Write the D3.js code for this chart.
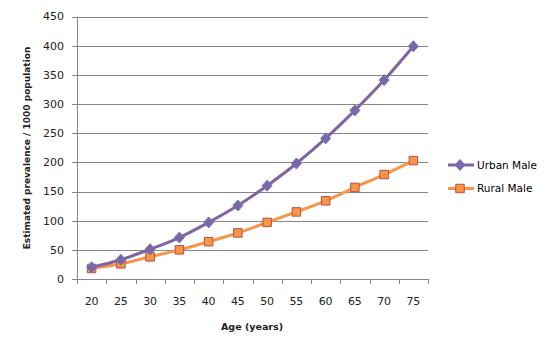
<!DOCTYPE html>
<html>
<head>
<meta charset="utf-8">
<script src="https://cdn.jsdelivr.net/npm/d3@7"></script>
<style>
  body { margin: 0; background: #fff; }
  text { font-family: "DejaVu Sans", sans-serif; fill: #222; }
</style>
</head>
<body>
<svg id="chart" width="556" height="353"></svg>
<script>
// Age groups and prevalence per 1000
const ages = ['20', '25', '30', '35', '40', '45', '50', '55', '60', '65', '70', '75'];
const urbanMale = [20, 33, 51, 71, 97, 126, 160, 198, 241, 289, 341, 399];
const ruralMale = [18, 26, 38, 50, 64, 79, 97, 115, 134, 157, 179, 203];
const yTicks = [0, 50, 100, 150, 200, 250, 300, 350, 400, 450];

const svg = d3.select('#chart');
const plot = { left: 77, right: 428, top: 16.5, bottom: 279 };

const x = d3.scaleBand().domain(ages).range([plot.left, plot.right]);
const y = d3.scaleLinear().domain([0, 450]).range([plot.bottom, plot.top]);

// gridlines
svg.append('g')
  .selectAll('line')
  .data(yTicks)
  .join('line')
  .attr('x1', plot.left - 5)
  .attr('x2', plot.right)
  .attr('y1', (d) => Math.round(y(d)) + 0.5)
  .attr('y2', (d) => Math.round(y(d)) + 0.5)
  .attr('stroke', '#878787')
  .attr('stroke-width', 1);

// y axis line
svg.append('line')
  .attr('x1', plot.left + 0.5).attr('x2', plot.left + 0.5)
  .attr('y1', plot.top).attr('y2', plot.bottom)
  .attr('stroke', '#878787');

// y tick labels
svg.append('g')
  .selectAll('text')
  .data(yTicks)
  .join('text')
  .attr('x', 64)
  .attr('y', (d) => y(d))
  .attr('dy', '0.35em')
  .attr('text-anchor', 'end')
  .style('font-size', '11px')
  .text((d) => d);

// x tick marks (between categories)
const xTickPos = ages.map((a) => x(a)).concat([plot.right]);
svg.append('g')
  .selectAll('line')
  .data(xTickPos)
  .join('line')
  .attr('x1', (d) => Math.round(d) + 0.5)
  .attr('x2', (d) => Math.round(d) + 0.5)
  .attr('y1', plot.bottom)
  .attr('y2', plot.bottom + 5)
  .attr('stroke', '#878787');

svg.append('g')
  .selectAll('text')
  .data(ages)
  .join('text')
  .attr('x', (d) => x(d) + x.bandwidth() / 2)
  .attr('y', 301)
  .attr('dy', '0.35em')
  .attr('text-anchor', 'middle')
  .style('font-size', '11px')
  .text((d) => d);

// axis titles
svg.append('text')
  .attr('x', 252)
  .attr('y', 327)
  .attr('dy', '0.35em')
  .attr('text-anchor', 'middle')
  .style('font-size', '9.5px')
  .style('font-weight', 'bold')
  .text('Age (years)');

svg.append('text')
  .attr('transform', 'translate(27,148) rotate(-90)')
  .attr('dy', '0.35em')
  .attr('text-anchor', 'middle')
  .style('font-size', '9px')
  .style('font-weight', 'bold')
  .text('Estimated prevalence / 1000 population');

const cx = (i) => x(ages[i]) + x.bandwidth() / 2;
const line = d3.line()
  .x((d, i) => cx(i))
  .y((d) => y(d))
  .curve(d3.curveCardinal.tension(0));

// Excel-like markers: a squat diamond and a square
const diamond = 'M0,-5.5L5,0L0,5.5L-5,0Z';
const square = d3.symbol().type(d3.symbolSquare).size(72)();

const series = [
  { name: 'Urban Male', values: urbanMale, color: '#8064A2', fill: '#7F64A8', edge: '#5C7DB8', marker: diamond },
  { name: 'Rural Male', values: ruralMale, color: '#F79646', fill: '#F79646', edge: '#BE4B48', marker: square },
];

// draw rural first so urban sits on top at the start
[...series].reverse().forEach((s) => {
  svg.append('path')
    .attr('d', line(s.values))
    .attr('fill', 'none')
    .attr('stroke', s.color)
    .attr('stroke-width', 3);
  svg.append('g')
    .selectAll('path')
    .data(s.values)
    .join('path')
    .attr('transform', (d, i) => `translate(${cx(i)},${y(d)})`)
    .attr('d', s.marker)
    .attr('fill', s.fill)
    .attr('stroke', s.edge)
    .attr('stroke-width', 1);
});

// legend
const legend = svg.append('g');
series.forEach((s, i) => {
  const ly = 165 + 23.5 * i;
  legend.append('line')
    .attr('x1', 448).attr('x2', 474)
    .attr('y1', ly).attr('y2', ly)
    .attr('stroke', s.color)
    .attr('stroke-width', 3);
  legend.append('path')
    .attr('transform', `translate(460,${ly})`)
    .attr('d', s.marker)
    .attr('fill', s.fill)
    .attr('stroke', s.edge);
  legend.append('text')
    .attr('x', 477)
    .attr('y', ly)
    .attr('dy', '0.35em')
    .style('font-size', '10.5px')
    .style('fill', '#000')
    .text(s.name);
});
</script>
</body>
</html>
